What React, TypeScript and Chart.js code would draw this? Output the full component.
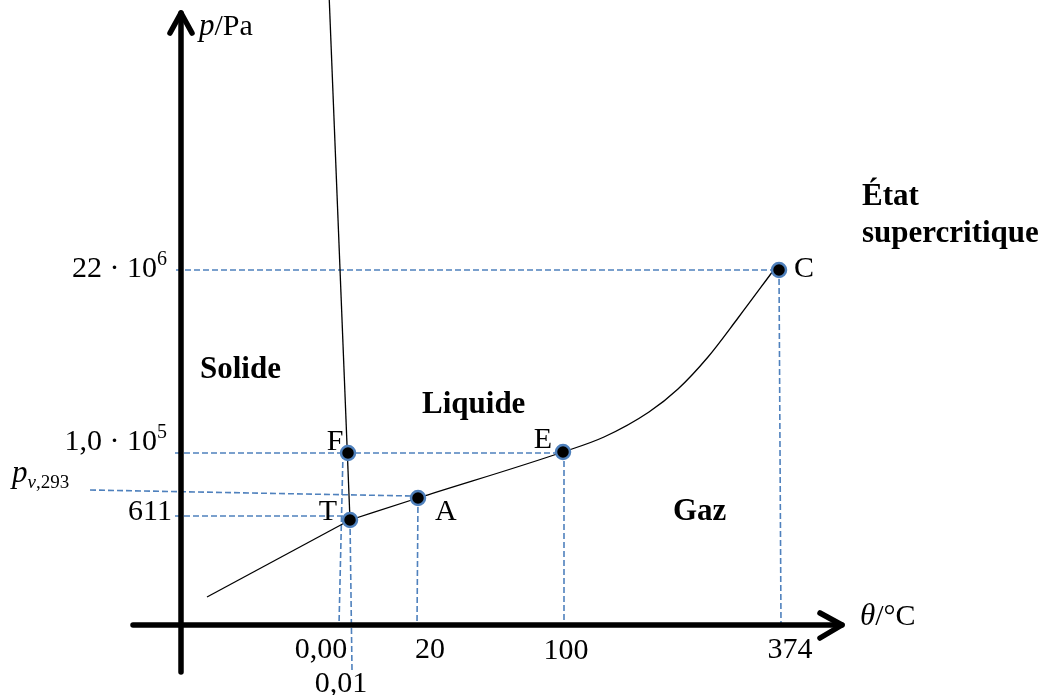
import React, { useEffect, useRef } from 'react';
import { Chart, registerables } from 'chart.js';

Chart.register(...registerables);

// Schematic phase diagram of water. Units are schematic "diagram units"
// measured from the intersection of the two axes (not to scale).

// Named state points
const pointNames = ['T', 'F', 'A', 'E', 'C'];
const pointX = [169, 167, 237, 382, 598];
const pointY = [105, 172, 127, 173, 355];

// Solid / liquid equilibrium (fusion curve)
const fusionX = [148, 169];
const fusionY = [632, 105];

// Solid / gas equilibrium (sublimation curve)
const sublimationX = [26, 169];
const sublimationY = [28, 105];

// Liquid / gas equilibrium (vaporisation curve), T -> A -> E -> C
const vaporX = [169, 237, 382, 423, 468, 497, 527, 557, 592];
const vaporY = [105, 127, 173, 188, 213, 236, 268, 307, 354];

// Reading lines (dashed guides) : [x1, y1, x2, y2]
const guideNames = ['p22e6', 'theta374', 'p1e5', 'theta100', 'pv293', 'theta20', 'p611', 'theta000', 'theta001'];
const guideX1 = [-5, 598, -6, 383, -91, 237, -6, 162, 169];
const guideY1 = [355, 355, 172, 173, 135, 127, 109, 172, 105];
const guideX2 = [598, 600, 382, 383, 232, 236, 164, 158, 171];
const guideY2 = [355, 0, 172, 0, 129, 0, 109, 0, -45];

// Axes extents
const xAxisX = [-48, 661];
const yAxisY = [-47, 612];

// Tick labels
const xTickLabels = ['0,00', '0,01', '20', '100', '374'];
const yTickLabels = ['22 · 10⁶', '1,0 · 10⁵', 'p_v,293', '611'];

const BLUE = '#4f81bd';
const SERIF = '"Liberation Serif", "DejaVu Serif", serif';

type Seg = [string, string];
type Label = { segs: Seg[]; x: number; y: number; align: 'left' | 'center' | 'right'; bold?: boolean };

const LABELS: Label[] = [
  // axis titles
  { segs: [['p', 'i'], ['/Pa', 'n']], x: 18, y: 590, align: 'left' },
  { segs: [['θ', 'i'], ['/°C', 'n']], x: 679, y: 0, align: 'left' },
  // x tick labels
  { segs: [[xTickLabels[0], 'n']], x: 140, y: -33, align: 'center' },
  { segs: [[xTickLabels[1], 'n']], x: 160, y: -67, align: 'center' },
  { segs: [[xTickLabels[2], 'n']], x: 249, y: -33, align: 'center' },
  { segs: [[xTickLabels[3], 'n']], x: 385, y: -34, align: 'center' },
  { segs: [[xTickLabels[4], 'n']], x: 609, y: -33, align: 'center' },
  // y tick labels
  { segs: [['22 · 10', 'n'], ['6', 'sup']], x: -14, y: 348, align: 'right' },
  { segs: [['1,0 · 10', 'n'], ['5', 'sup']], x: -14, y: 175, align: 'right' },
  { segs: [['p', 'i'], ['v', 'isub'], [',293', 'sub']], x: -169, y: 143, align: 'left' },
  { segs: [[yTickLabels[3], 'n']], x: -9, y: 105, align: 'right' },
  // point names
  { segs: [[pointNames[1], 'n']], x: 154, y: 175, align: 'center' },
  { segs: [[pointNames[0], 'n']], x: 147, y: 105, align: 'center' },
  { segs: [[pointNames[2], 'n']], x: 254, y: 105, align: 'left' },
  { segs: [[pointNames[3], 'n']], x: 362, y: 177, align: 'center' },
  { segs: [[pointNames[4], 'n']], x: 613, y: 348, align: 'left' },
  // regions
  { segs: [['Solide', 'b']], x: 19, y: 247, align: 'left' },
  { segs: [['Liquide', 'b']], x: 241, y: 212, align: 'left' },
  { segs: [['Gaz', 'b']], x: 492, y: 105, align: 'left' },
  { segs: [['État', 'b']], x: 681, y: 420, align: 'left' },
  { segs: [['supercritique', 'b']], x: 681, y: 383, align: 'left' },
];

const MAIN = 30;
const BOLD = 31;
function fontFor(st: string): string {
  switch (st) {
    case 'i': return `italic ${MAIN + 1}px ${SERIF}`;
    case 'b': return `bold ${BOLD}px ${SERIF}`;
    case 'sup': return `20px ${SERIF}`;
    case 'sub': return `19px ${SERIF}`;
    case 'isub': return `italic 19px ${SERIF}`;
    default: return `${MAIN}px ${SERIF}`;
  }
}
function dyFor(st: string): number {
  if (st === 'sup') return -12;
  if (st === 'sub' || st === 'isub') return 6;
  return 0;
}

const textPlugin = {
  id: 'phaseText',
  afterDatasetsDraw(chart: any) {
    const { ctx } = chart;
    const xs = chart.scales.x;
    const ys = chart.scales.y;
    ctx.save();
    ctx.fillStyle = '#000';
    ctx.textBaseline = 'alphabetic';
    ctx.textAlign = 'left';
    for (const lab of LABELS) {
      const px = xs.getPixelForValue(lab.x);
      const py = ys.getPixelForValue(lab.y);
      let total = 0;
      const parts = lab.segs.map(([t, st]) => {
        const f = fontFor(st);
        ctx.font = f;
        const w = ctx.measureText(t).width;
        total += w;
        return { t, st, f, w };
      });
      let cx = lab.align === 'right' ? px - total : lab.align === 'center' ? px - total / 2 : px;
      for (const p of parts) {
        ctx.font = p.f;
        ctx.fillText(p.t, cx, py + dyFor(p.st));
        cx += p.w;
      }
    }
    ctx.restore();
  },
};

const zip = (xs: number[], ys: number[]) => xs.map((x, i) => ({ x, y: ys[i] }));

export default function App() {
  const ref = useRef<HTMLCanvasElement | null>(null);
  useEffect(() => {
    if (!ref.current) return;
    const line = (data: any[], extra: any) => ({
      data,
      showLine: true,
      pointRadius: 0,
      pointHoverRadius: 0,
      fill: false,
      ...extra,
    });
    const guides = guideNames.map((_, i) =>
      line(
        [
          { x: guideX1[i], y: guideY1[i] },
          { x: guideX2[i], y: guideY2[i] },
        ],
        { borderColor: BLUE, borderWidth: 1.6, borderDash: [6, 3], order: 4 }
      )
    );
    const axisStyle = { borderColor: '#000', borderWidth: 5.5, borderCapStyle: 'round', borderJoinStyle: 'round', order: 1 };
    const datasets: any[] = [
      {
        data: zip(pointX, pointY),
        showLine: false,
        pointRadius: 7,
        pointHoverRadius: 7,
        pointBackgroundColor: '#000',
        pointBorderColor: BLUE,
        pointBorderWidth: 2.5,
        order: 0,
      },
      line([{ x: xAxisX[0], y: 0 }, { x: xAxisX[1], y: 0 }], axisStyle),
      line([{ x: xAxisX[1] - 22, y: 12 }, { x: xAxisX[1], y: 0 }, { x: xAxisX[1] - 22, y: -13 }], axisStyle),
      line([{ x: 0, y: yAxisY[0] }, { x: 0, y: yAxisY[1] }], axisStyle),
      line([{ x: -11, y: yAxisY[1] - 20 }, { x: 0, y: yAxisY[1] }, { x: 11, y: yAxisY[1] - 20 }], axisStyle),
      line(zip(fusionX, fusionY), { borderColor: '#000', borderWidth: 1.3, order: 2 }),
      line(zip(sublimationX, sublimationY), { borderColor: '#000', borderWidth: 1.3, order: 2 }),
      line(zip(vaporX, vaporY), { borderColor: '#000', borderWidth: 1.3, cubicInterpolationMode: 'monotone', order: 2 }),
      ...guides,
    ];
    const chart = new Chart(ref.current, {
      type: 'scatter',
      data: { datasets },
      options: {
        animation: false,
        responsive: false,
        maintainAspectRatio: false,
        events: [],
        layout: { padding: 0, autoPadding: false },
        plugins: { legend: { display: false }, tooltip: { enabled: false } },
        scales: {
          x: { type: 'linear', display: false, min: -181, max: 866 },
          y: { type: 'linear', display: false, min: -70, max: 625 },
        },
      },
      plugins: [textPlugin],
    } as any);
    return () => chart.destroy();
  }, []);
  return (
    <div style={{ position: 'absolute', left: 0, top: 0, width: 1047, height: 695, background: '#fff' }}>
      <canvas ref={ref} width={1047} height={695} style={{ width: 1047, height: 695, display: 'block' }} />
    </div>
  );
}
